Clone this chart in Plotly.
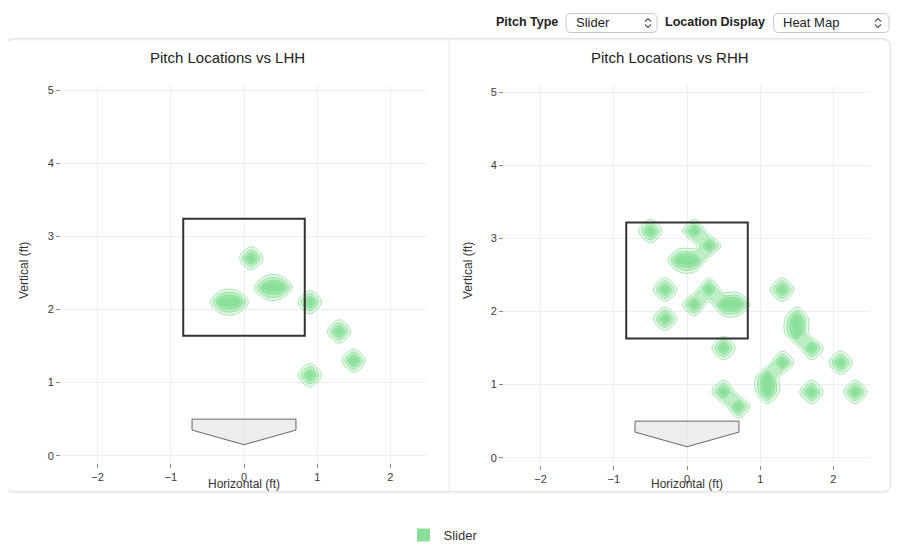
import plotly.graph_objects as go

# page body keeps an 8px margin, so the canvas is drawn 8px in
OFF = 8
W = 904 - 2 * OFF
H = 550 - OFF

# pitch locations (ft)
LHH_X = [0.1, 0.3, 0.5, -0.3, -0.1, 0.9, 1.3, 1.5, 0.9]
LHH_Y = [2.7, 2.3, 2.3, 2.1, 2.1, 2.1, 1.7, 1.3, 1.1]

RHH_X = [-0.5, 0.1, 0.3, -0.1, 0.1, -0.3, 0.3, 0.1, 0.5, 0.7, -0.3, 1.3,
         1.5, 1.5, 1.7, 0.5, 1.3, 2.1, 1.1, 1.1, 0.5, 0.7, 1.7, 2.3]
RHH_Y = [3.1, 3.1, 2.9, 2.7, 2.7, 2.3, 2.3, 2.1, 2.1, 2.1, 1.9, 2.3,
         1.9, 1.7, 1.5, 1.5, 1.3, 1.3, 1.1, 0.9, 0.9, 0.7, 0.9, 0.9]

PITCH_TYPE = "Slider"
LOCATION_DISPLAY = "Heat Map"
PANEL_TITLES = ["Pitch Locations vs LHH", "Pitch Locations vs RHH"]

# strike zone (left, right, bottom, top) per batter side
ZONE_LHH = [-0.83, 0.83, 1.64, 3.24]
ZONE_RHH = [-0.83, 0.83, 1.63, 3.22]
PLATE_X = [-0.71, 0.71, 0.71, 0.0, -0.71]
PLATE_Y = [0.5, 0.5, 0.35, 0.15, 0.35]

X_TICKS = [-2, -1, 0, 1, 2]
Y_TICKS = [0, 1, 2, 3, 4, 5]

GREEN = "138,223,152"
FONT = "Liberation Sans, Arial, sans-serif"


def px(x):
    return (x - OFF) / W


def py(y):
    return 1 - (y - OFF) / H


def rounded_rect(x0, y0, x1, y1, r):
    # path in paper coords built from window pixel corners
    pts = [
        f"M{px(x0 + r)},{py(y0)}",
        f"L{px(x1 - r)},{py(y0)}",
        f"Q{px(x1)},{py(y0)} {px(x1)},{py(y0 + r)}",
        f"L{px(x1)},{py(y1 - r)}",
        f"Q{px(x1)},{py(y1)} {px(x1 - r)},{py(y1)}",
        f"L{px(x0 + r)},{py(y1)}",
        f"Q{px(x0)},{py(y1)} {px(x0)},{py(y1 - r)}",
        f"L{px(x0)},{py(y0 + r)}",
        f"Q{px(x0)},{py(y0)} {px(x0 + r)},{py(y0)}",
        "Z",
    ]
    return " ".join(pts)


def chevrons(cx, cy):
    up = f"M{px(cx - 3)},{py(cy - 1.5)} L{px(cx)},{py(cy - 4.5)} L{px(cx + 3)},{py(cy - 1.5)}"
    down = f"M{px(cx - 3)},{py(cy + 1.5)} L{px(cx)},{py(cy + 4.5)} L{px(cx + 3)},{py(cy + 1.5)}"
    return up + " " + down


def heat(xs, ys, xa, ya):
    return go.Histogram2dContour(
        x=xs, y=ys, xaxis=xa, yaxis=ya,
        xbins=dict(start=-2.6, end=2.6, size=0.2),
        ybins=dict(start=0.0, end=5.2, size=0.2),
        autocontour=False,
        contours=dict(coloring="fill", start=0.2, end=0.8, size=0.2, showlines=True),
        line=dict(color=f"rgba({GREEN},0.75)", width=1, smoothing=1),
        colorscale=[
            [0.0, f"rgba({GREEN},0)"],
            [0.25, f"rgba({GREEN},0.2)"],
            [0.5, f"rgba({GREEN},0.45)"],
            [0.75, f"rgba({GREEN},0.7)"],
            [1.0, f"rgba({GREEN},0.95)"],
        ],
        showscale=False, showlegend=False, hoverinfo="skip",
    )


fig = go.Figure()
fig.add_trace(heat(LHH_X, LHH_Y, "x", "y"))
fig.add_trace(heat(RHH_X, RHH_Y, "x2", "y2"))

# legend entry
fig.add_trace(go.Scatter(
    x=[None], y=[None], mode="markers", name=PITCH_TYPE,
    marker=dict(symbol="square", size=13, color=f"rgb({GREEN})"),
    xaxis="x", yaxis="y", showlegend=True,
))

axis_common = dict(
    showgrid=True, gridcolor="#eeeeee", gridwidth=1, zeroline=False,
    showline=False, ticks="outside", ticklen=4, tickcolor="#888",
    tickfont=dict(size=11, color="#3a3a3a", family=FONT), fixedrange=True,
)

fig.update_layout(
    width=W, height=H,
    margin=dict(l=0, r=0, t=0, b=0),
    paper_bgcolor="white", plot_bgcolor="white",
    font=dict(family=FONT, color="#333"),
    xaxis=dict(domain=[px(61), px(427)], range=[-2.5, 2.5], tickvals=X_TICKS, anchor="y", **axis_common),
    yaxis=dict(domain=[py(463), py(85)], range=[-0.1, 5.07], tickvals=Y_TICKS, anchor="x", **axis_common),
    xaxis2=dict(domain=[px(504), px(870)], range=[-2.5, 2.5], tickvals=X_TICKS, anchor="y2", **axis_common),
    yaxis2=dict(domain=[py(465), py(85)], range=[-0.1, 5.1], tickvals=Y_TICKS, anchor="x2", **axis_common),
    legend=dict(orientation="h", x=px(443), xanchor="center", y=py(535), yanchor="middle",
                font=dict(size=13, color="#333"), bgcolor="rgba(0,0,0,0)"),
)

shapes = []
# card container and divider
shapes.append(dict(type="path", xref="paper", yref="paper", path=rounded_rect(5.5, 39.5, 890.5, 492.5, 8),
                   line=dict(color="rgba(0,0,0,0.05)", width=2), fillcolor="rgba(0,0,0,0)", layer="below"))
shapes.append(dict(type="path", xref="paper", yref="paper", path=rounded_rect(5.5, 38.5, 890.5, 491.5, 8),
                   line=dict(color="#e4e4e4", width=1), fillcolor="rgba(0,0,0,0)", layer="below"))
shapes.append(dict(type="line", xref="paper", yref="paper", x0=px(449), x1=px(449), y0=py(38.5), y1=py(491.5),
                   line=dict(color="#e6e6e6", width=1), layer="below"))

# select boxes
for x0, x1, cx in [(566, 657, 648), (773.5, 889, 878)]:
    shapes.append(dict(type="path", xref="paper", yref="paper", path=rounded_rect(x0, 13.5, x1, 32.5, 5),
                       line=dict(color="#c8c8c8", width=1), fillcolor="white"))
    shapes.append(dict(type="path", xref="paper", yref="paper", path=chevrons(cx, 23),
                       line=dict(color="#555", width=1.1)))

# strike zones and home plates
for xr, yr, zone in [("x", "y", ZONE_LHH), ("x2", "y2", ZONE_RHH)]:
    shapes.append(dict(type="rect", xref=xr, yref=yr, x0=zone[0], x1=zone[1], y0=zone[2], y1=zone[3],
                       line=dict(color="#333", width=2), fillcolor="rgba(0,0,0,0)"))
    plate = "M" + " L".join(f"{a},{b}" for a, b in zip(PLATE_X, PLATE_Y)) + " Z"
    shapes.append(dict(type="path", xref=xr, yref=yr, path=plate,
                       line=dict(color="#666", width=1), fillcolor="rgba(225,225,225,0.6)"))

fig.update_layout(shapes=shapes)


def note(x, y, text, size, color="#333", anchor="center", angle=0):
    return dict(x=px(x), y=py(y), xref="paper", yref="paper", text=text, showarrow=False,
                xanchor=anchor, yanchor="middle", textangle=angle,
                font=dict(size=size, color=color))


ann = []
for cx, txt in zip([227, 670], PANEL_TITLES):
    ann.append(note(cx, 57, txt, 15, "#222"))
for cx in [244, 687]:
    ann.append(note(cx, 484, "Horizontal (ft)", 12))
for cx in [24, 468]:
    ann.append(note(cx, 271, "Vertical (ft)", 12, angle=-90))
# control labels and values
ann.append(note(560, 22, "<b>Pitch Type</b>", 12.5, "#222", "right"))
ann.append(note(574, 23, PITCH_TYPE, 13, "#222", "left"))
ann.append(note(767, 22, "<b>Location Display</b>", 12.5, "#222", "right"))
ann.append(note(781, 23, LOCATION_DISPLAY, 13, "#222", "left"))
fig.update_layout(annotations=ann)

fig.write_html("out.html")
